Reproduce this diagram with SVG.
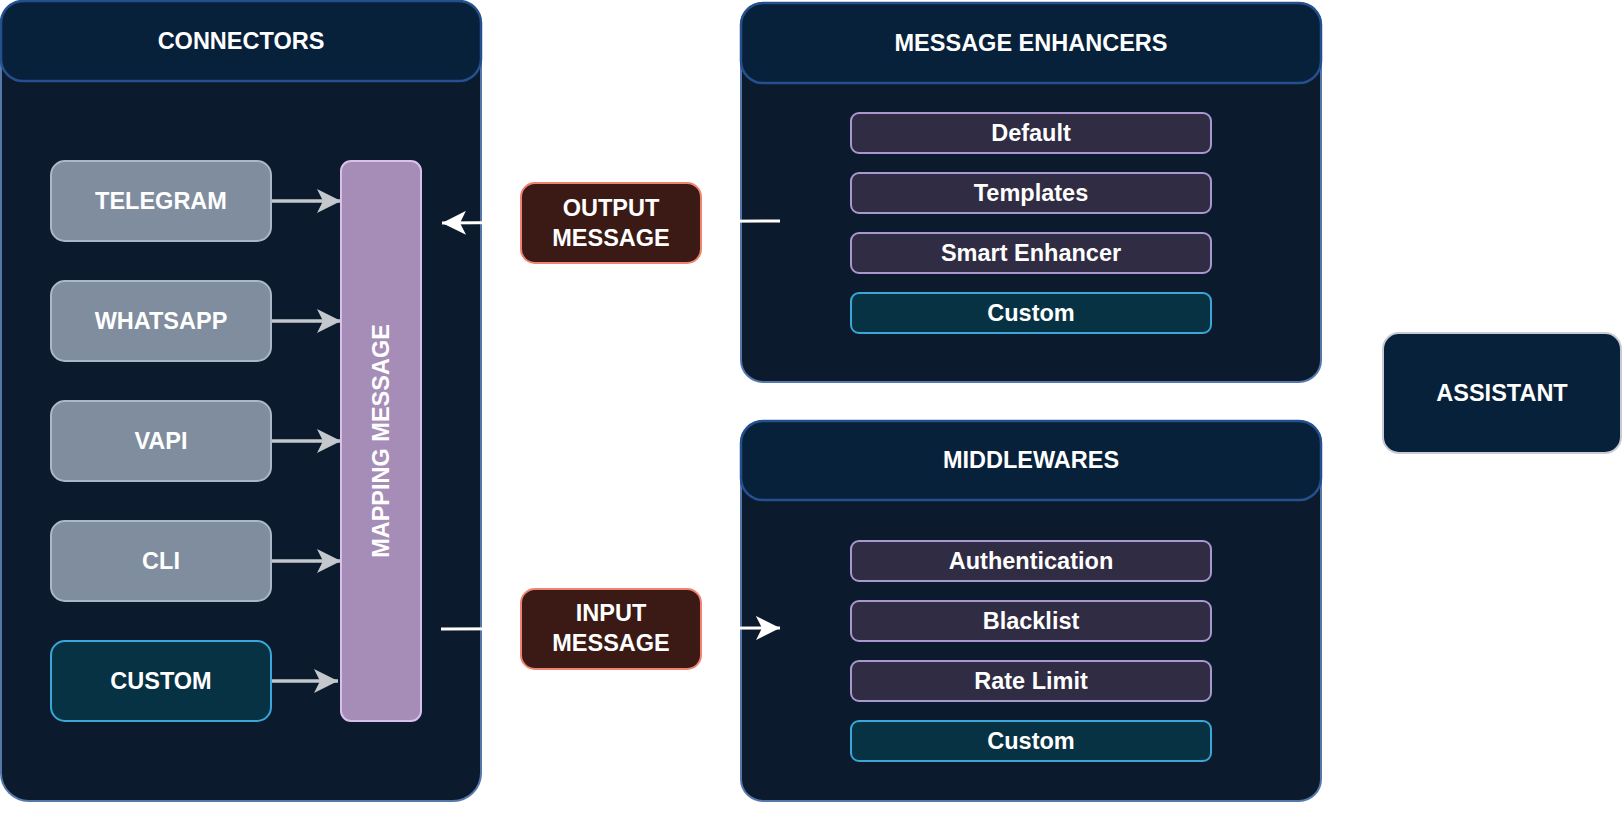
<svg xmlns="http://www.w3.org/2000/svg" width="1624" height="820" viewBox="0 0 1624 820">
<style>
text{font-family:"Liberation Sans",Arial,sans-serif;font-weight:bold;font-size:23.5px;fill:#ffffff;text-anchor:middle}
.cont{fill:#0C1A2D;stroke:#5577AA;stroke-width:2}
.head{fill:#08213A;stroke:#24508F;stroke-width:2.5}
.src{fill:#7F8D9E;stroke:#A9B7C8;stroke-width:2}
.cust{fill:#063244;stroke:#3BA6D8;stroke-width:2}
.map{fill:#A58DB8;stroke:#D8C0EA;stroke-width:2}
.item{fill:#302C43;stroke:#A898CE;stroke-width:2}
.icust{fill:#063244;stroke:#3BA6D8;stroke-width:2}
.lbl{fill:#3B1A16;stroke:#F08272;stroke-width:2}
.asst{fill:#08213A;stroke:#C8CCD2;stroke-width:2}
.garr{stroke:#C4C8CC;stroke-width:3.5;fill:none}
.warr{stroke:#ffffff;stroke-width:3;fill:none}
</style>
<defs>
<marker id="ag" viewBox="0 0 24 24" refX="24" refY="12" markerWidth="24" markerHeight="24" markerUnits="userSpaceOnUse" orient="auto">
<path d="M0,0 L24,12 L0,24 L6,12 Z" fill="#C4C8CC"/>
</marker>
<marker id="aw" viewBox="0 0 24 24" refX="24" refY="12" markerWidth="24" markerHeight="24" markerUnits="userSpaceOnUse" orient="auto">
<path d="M0,0 L24,12 L0,24 L6,12 Z" fill="#ffffff"/>
</marker>
</defs>
<rect width="1624" height="820" fill="#ffffff"/>

<g id="connectors-group">
<rect class="cont" x="1" y="1" width="480" height="800" rx="28"/>
<rect class="head" x="1" y="1" width="480" height="80" rx="22"/>
<text x="241" y="49">CONNECTORS</text>
</g>

<g id="message-enhancers">
<rect class="cont" x="741" y="3" width="580" height="379" rx="22"/>
<rect class="head" x="741" y="3" width="580" height="80" rx="22"/>
<text x="1031" y="51">MESSAGE ENHANCERS</text>
</g>

<g id="middlewares">
<rect class="cont" x="741" y="421" width="580" height="380" rx="22"/>
<rect class="head" x="741" y="421" width="580" height="79" rx="22"/>
<text x="1031" y="468">MIDDLEWARES</text>
</g>

<g id="edges">
<line class="garr" x1="271" y1="201" x2="341" y2="201" marker-end="url(#ag)"/>
<line class="garr" x1="271" y1="321" x2="341" y2="321" marker-end="url(#ag)"/>
<line class="garr" x1="271" y1="441" x2="341" y2="441" marker-end="url(#ag)"/>
<line class="garr" x1="271" y1="561" x2="341" y2="561" marker-end="url(#ag)"/>
<line class="garr" x1="271" y1="681" x2="338" y2="681" marker-end="url(#ag)"/>
<line class="warr" x1="780" y1="221" x2="442" y2="223" marker-end="url(#aw)"/>
<line class="warr" x1="441" y1="629" x2="780" y2="628" marker-end="url(#aw)"/>
</g>

<g id="telegram"><rect class="src" x="51" y="161" width="220" height="80" rx="14"/><text x="161" y="209">TELEGRAM</text></g>
<g id="whatsapp"><rect class="src" x="51" y="281" width="220" height="80" rx="14"/><text x="161" y="329">WHATSAPP</text></g>
<g id="vapi"><rect class="src" x="51" y="401" width="220" height="80" rx="14"/><text x="161" y="449">VAPI</text></g>
<g id="cli"><rect class="src" x="51" y="521" width="220" height="80" rx="14"/><text x="161" y="569">CLI</text></g>
<g id="custom-connector"><rect class="cust" x="51" y="641" width="220" height="80" rx="14"/><text x="161" y="689">CUSTOM</text></g>

<g id="mapping-message">
<rect class="map" x="341" y="161" width="80" height="560" rx="10"/>
<text transform="translate(389,441) rotate(-90)" x="0" y="0">MAPPING MESSAGE</text>
</g>

<g id="output-message">
<rect class="lbl" x="521" y="183" width="180" height="80" rx="14"/>
<text x="611" y="216">OUTPUT</text>
<text x="611" y="246">MESSAGE</text>
</g>
<g id="input-message">
<rect class="lbl" x="521" y="589" width="180" height="80" rx="14"/>
<text x="611" y="621">INPUT</text>
<text x="611" y="651">MESSAGE</text>
</g>

<g id="enh-default"><rect class="item" x="851" y="113" width="360" height="40" rx="8"/><text x="1031" y="141">Default</text></g>
<g id="enh-templates"><rect class="item" x="851" y="173" width="360" height="40" rx="8"/><text x="1031" y="201">Templates</text></g>
<g id="enh-smart"><rect class="item" x="851" y="233" width="360" height="40" rx="8"/><text x="1031" y="261">Smart Enhancer</text></g>
<g id="enh-custom"><rect class="icust" x="851" y="293" width="360" height="40" rx="8"/><text x="1031" y="321">Custom</text></g>

<g id="mw-auth"><rect class="item" x="851" y="541" width="360" height="40" rx="8"/><text x="1031" y="569">Authentication</text></g>
<g id="mw-blacklist"><rect class="item" x="851" y="601" width="360" height="40" rx="8"/><text x="1031" y="629">Blacklist</text></g>
<g id="mw-ratelimit"><rect class="item" x="851" y="661" width="360" height="40" rx="8"/><text x="1031" y="689">Rate Limit</text></g>
<g id="mw-custom"><rect class="icust" x="851" y="721" width="360" height="40" rx="8"/><text x="1031" y="749">Custom</text></g>

<g id="assistant">
<rect class="asst" x="1383" y="333" width="238" height="120" rx="16"/>
<text x="1502" y="401">ASSISTANT</text>
</g>
</svg>
